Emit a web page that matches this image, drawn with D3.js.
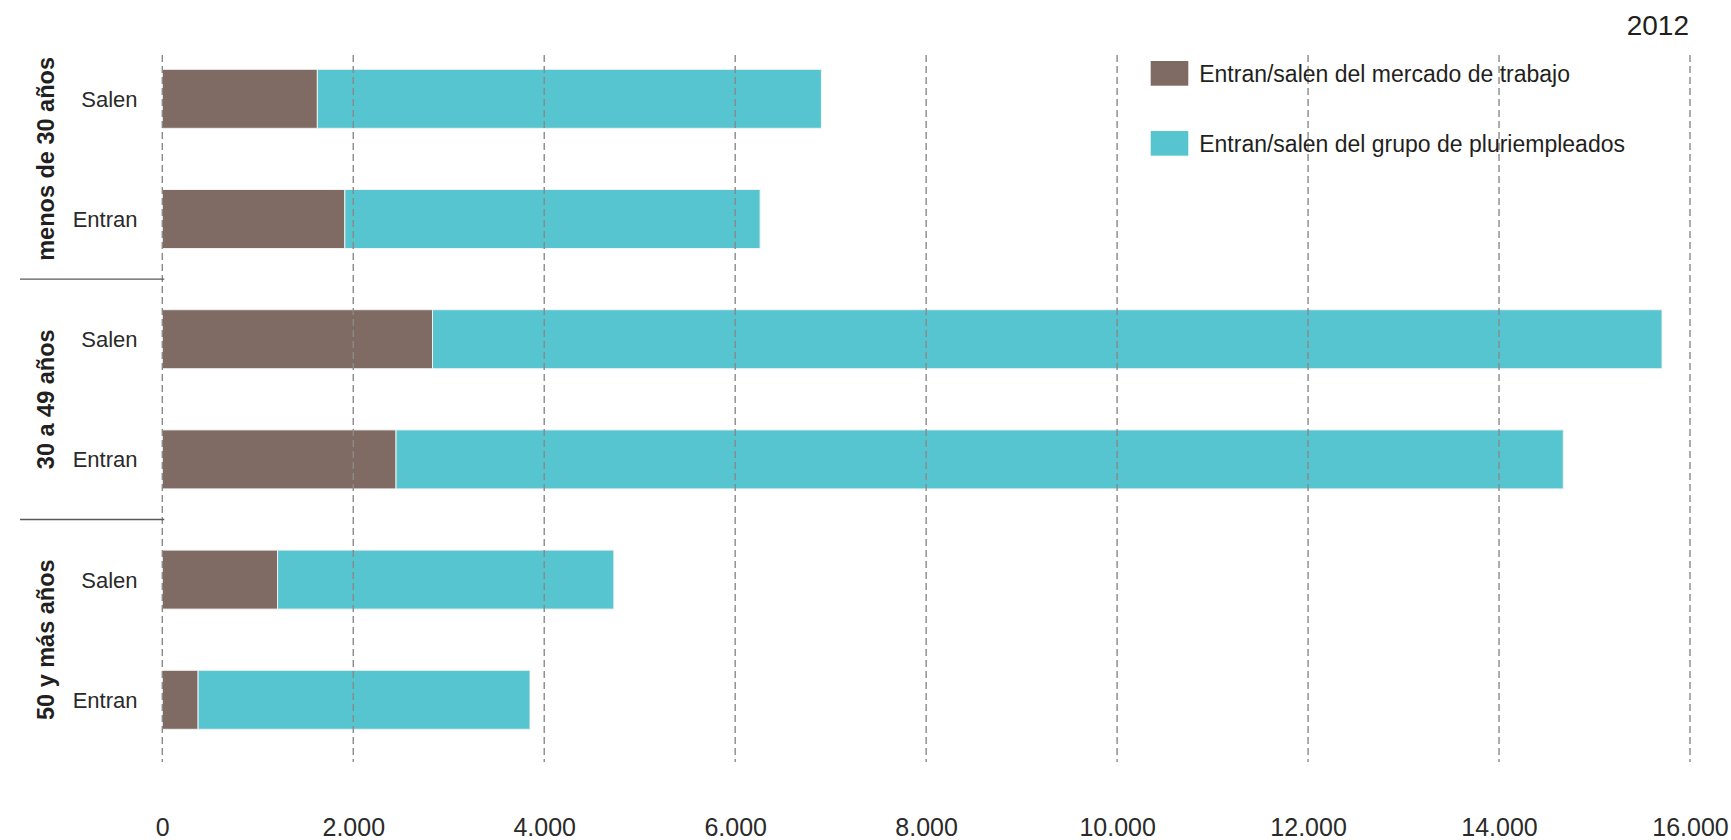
<!DOCTYPE html>
<html>
<head>
<meta charset="utf-8">
<script src="https://cdn.jsdelivr.net/npm/d3@7/dist/d3.min.js"></script>
<style>
  html, body { margin: 0; padding: 0; background: #fff; }
  svg { display: block; font-family: "Liberation Sans", Arial, sans-serif; }
</style>
</head>
<body>
<svg id="chart" width="1731" height="840"></svg>
<script>
// ---- Data ----
const groups = ["menos de 30 años", "30 a 49 años", "50 y más años"];
const rowLabels = ["Salen", "Entran"];
const rowGroup = [0, 0, 1, 1, 2, 2];
const rowNames = ["Salen", "Entran", "Salen", "Entran", "Salen", "Entran"];
const mercado = [1624, 1912, 2830, 2448, 1207, 375];
const pluriempleo = [5279, 4349, 12877, 12225, 3522, 3476];
const seriesNames = ["Entran/salen del mercado de trabajo", "Entran/salen del grupo de pluriempleados"];
const seriesColors = ["#7f6b63", "#57c5d0"];
const tickValues = [0, 2000, 4000, 6000, 8000, 10000, 12000, 14000, 16000];
const yearLabel = "2012";

// ---- Setup ----
const svg = d3.select("#chart");
const rowKeys = rowNames.map((d, i) => i);
const rows = rowKeys.map(i => ({ i, name: rowNames[i], group: rowGroup[i], a: mercado[i], b: pluriempleo[i] }));

const x = d3.scaleLinear().domain([0, 16000]).range([162.3, 1690]);
const y = d3.scaleBand().domain(rowKeys).range([69.3, 729.3]).paddingInner(0.509).paddingOuter(0);

const locale = d3.formatLocale({ decimal: ",", thousands: ".", grouping: [3], currency: ["", "€"] });
const fmt = locale.format(",d");

const stack = d3.stack().keys(["a", "b"]);
const stacked = stack(rows);

// ---- Bars ----
svg.append("g").selectAll("g")
  .data(stacked)
  .join("g")
  .attr("fill", (d, i) => seriesColors[i])
  .selectAll("rect")
  .data(d => d)
  .join("rect")
  .attr("x", d => x(d[0]))
  .attr("y", d => y(d.data.i))
  .attr("width", d => x(d[1]) - x(d[0]))
  .attr("height", y.bandwidth())
  .attr("stroke", "#f2f2f2")
  .attr("stroke-width", 1);

// ---- Gridlines (dashed, over bars) ----
svg.append("g").selectAll("line")
  .data(tickValues)
  .join("line")
  .attr("x1", d => x(d)).attr("x2", d => x(d))
  .attr("y1", 55).attr("y2", 762)
  .attr("stroke", "#8a8a8a")
  .attr("stroke-width", 1.4)
  .attr("stroke-dasharray", "7,4");

// ---- X axis tick labels ----
const xAxis = d3.axisBottom(x).tickValues(tickValues).tickFormat(fmt).tickSize(0).tickPadding(0);
const gx = svg.append("g").attr("transform", "translate(0,818)").call(xAxis);
gx.select(".domain").remove();
gx.selectAll("text")
  .attr("font-size", 25)
  .attr("font-family", "Liberation Sans, Arial, sans-serif")
  .attr("fill", "#2a2a2a")
  .attr("dy", "0.72em");

// ---- Row labels ----
const yAxis = d3.axisLeft(y).tickFormat(i => rowNames[i]).tickSize(0).tickPadding(0);
const gy = svg.append("g").attr("transform", "translate(137.5,0)").call(yAxis);
gy.select(".domain").remove();
gy.selectAll("text")
  .attr("font-size", 22)
  .attr("font-family", "Liberation Sans, Arial, sans-serif")
  .attr("fill", "#2a2a2a")
  .attr("dy", "0.36em");

// ---- Group labels ----
const groupCenter = g => {
  const idx = rowKeys.filter(i => rowGroup[i] === g);
  const top = y(idx[0]);
  const bottom = y(idx[idx.length - 1]) + y.bandwidth();
  return (top + bottom) / 2;
};
svg.append("g").selectAll("text")
  .data(groups)
  .join("text")
  .attr("transform", (d, g) => `translate(54,${groupCenter(g)}) rotate(-90)`)
  .attr("text-anchor", "middle")
  .attr("font-size", 23.5)
  .attr("font-weight", "bold")
  .attr("fill", "#231f20")
  .text(d => d);

// ---- Group separators ----
const sepData = [0, 1].map(g => {
  const idx = rowKeys.filter(i => rowGroup[i] === g);
  const last = idx[idx.length - 1];
  const gap = y.step() - y.bandwidth();
  return y(last) + y.bandwidth() + gap / 2;
});
svg.append("g").selectAll("line")
  .data(sepData)
  .join("line")
  .attr("x1", 20).attr("x2", x(0) + 2)
  .attr("y1", d => d).attr("y2", d => d)
  .attr("stroke", "#5a5a5a")
  .attr("stroke-width", 1.4);

// ---- Legend ----
const legend = svg.append("g").attr("transform", "translate(1150.7,61)");
const li = legend.selectAll("g").data(seriesNames).join("g")
  .attr("transform", (d, i) => `translate(0,${i * 70})`);
li.append("rect")
  .attr("width", 37.6).attr("height", 24.7)
  .attr("fill", (d, i) => seriesColors[i]);
li.append("text")
  .attr("x", 48.5).attr("y", 12.4)
  .attr("dy", "0.36em")
  .attr("font-size", 23)
  .attr("fill", "#231f20")
  .text(d => d);

// ---- Year ----
svg.append("text")
  .attr("x", 1689).attr("y", 35)
  .attr("text-anchor", "end")
  .attr("font-size", 28)
  .attr("fill", "#231f20")
  .text(yearLabel);
</script>
</body>
</html>
